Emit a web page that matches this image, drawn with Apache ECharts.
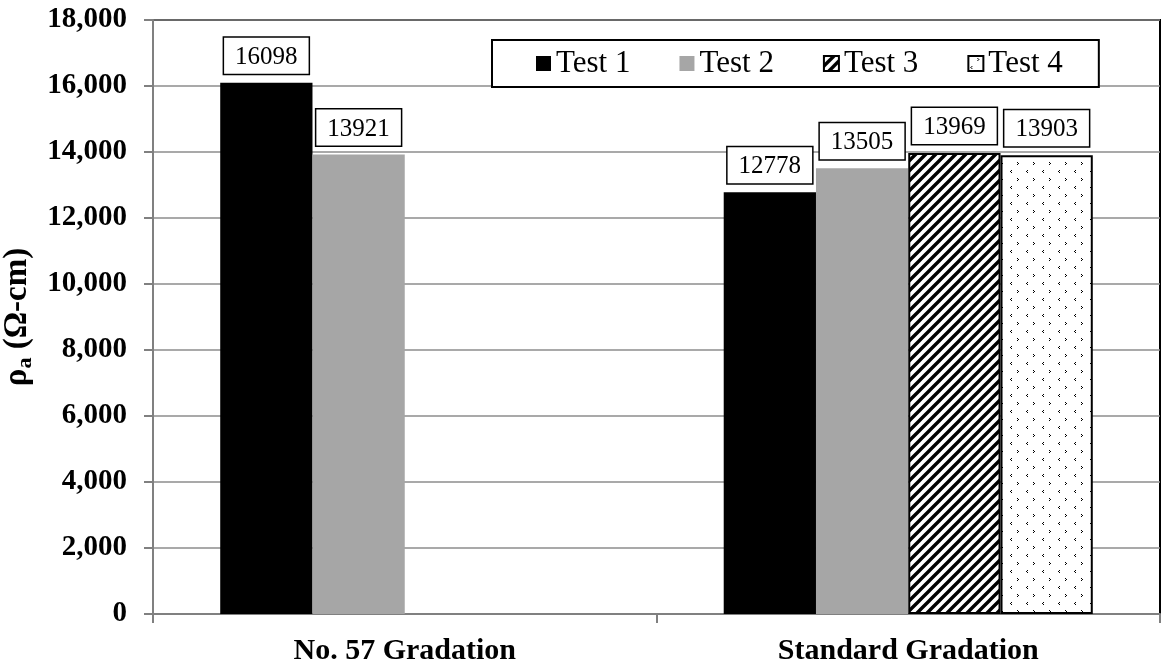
<!DOCTYPE html>
<html>
<head>
<meta charset="utf-8">
<script src="https://cdn.jsdelivr.net/npm/echarts@6/dist/echarts.min.js"></script>
<style>
  html, body { margin: 0; padding: 0; background: #fff; }
  #chart { width: 1169px; height: 670px; }
</style>
</head>
<body>
<div id="chart"></div>
<script>
// data
var categories = ['No. 57 Gradation', 'Standard Gradation'];
var seriesNames = ['Test 1', 'Test 2', 'Test 3', 'Test 4'];
var test1 = [16098, 12778];
var test2 = [13921, 13505];
var test3 = [null, 13969];
var test4 = [null, 13903];
var yMin = 0, yMax = 18000, yStep = 2000;

var serif = '"Liberation Serif", "Times New Roman", serif';

// hatch pattern for Test 3 (diagonal stripes)
function stripes() {
  var n = 10;
  var c = document.createElement('canvas');
  c.width = n; c.height = n;
  var g = c.getContext('2d');
  g.fillStyle = '#fff';
  g.fillRect(0, 0, n, n);
  g.strokeStyle = '#000';
  g.lineWidth = 3.4;
  g.beginPath();
  for (var k = -1; k <= 2; k++) {
    g.moveTo(-n + k * n, n); g.lineTo(k * n, 0);
    g.moveTo(-n + k * n - 2, n + 2); g.lineTo(k * n + 2, -2);
  }
  g.stroke();
  return c;
}

// dotted pattern for Test 4 (small < and > marks, staggered rows)
function dots() {
  var c = document.createElement('canvas');
  c.width = 16; c.height = 16;
  var g = c.getContext('2d');
  g.fillStyle = '#fff';
  g.fillRect(0, 0, 16, 16);
  g.fillStyle = '#000';
  function lt(x, y) { g.fillRect(x + 1, y, 1, 1); g.fillRect(x, y + 1, 1, 1); g.fillRect(x + 1, y + 2, 1, 1); }
  function gt(x, y) { g.fillRect(x, y, 1, 1); g.fillRect(x + 1, y + 1, 1, 1); g.fillRect(x, y + 2, 1, 1); }
  gt(9, 2);
  lt(2, 10);
  return c;
}

var labelStyle = {
  show: true,
  position: 'top',
  distance: 9,
  color: '#000',
  fontFamily: serif,
  fontSize: 25,
  backgroundColor: '#fff',
  borderColor: '#000',
  borderWidth: 1.5,
  padding: [7, 11, 4, 11]
};

function makeSeries(name, data, itemStyle) {
  return {
    name: name,
    type: 'bar',
    data: data,
    barGap: '0%',
    barCategoryGap: '26.7%',
    itemStyle: itemStyle,
    label: labelStyle
  };
}

var chart = echarts.init(document.getElementById('chart'));
chart.setOption({
  animation: false,
  backgroundColor: '#fff',
  grid: {
    left: 153, right: 9, top: 20, bottom: 56,
    outerBoundsMode: 'none',
    show: true, borderColor: '#000', borderWidth: 2
  },
  legend: {
    left: 492, top: 40,
    data: seriesNames,
    icon: 'rect',
    itemWidth: 15, itemHeight: 15,
    itemGap: 49,
    backgroundColor: '#fff',
    borderColor: '#000', borderWidth: 2,
    padding: [8, 36, 8, 44],
    textStyle: { fontFamily: serif, fontSize: 31, color: '#000' }
  },
  xAxis: {
    type: 'category',
    data: categories,
    axisLine: { lineStyle: { color: '#808080', width: 2 } },
    axisTick: { show: true, length: 9, lineStyle: { color: '#808080', width: 2 } },
    axisLabel: {
      margin: 22, color: '#000', fontFamily: serif, fontSize: 30, fontWeight: 'bold'
    }
  },
  yAxis: {
    type: 'value',
    min: yMin, max: yMax, interval: yStep,
    name: '{b|ρ}{s|a}{b| (Ω-cm)}',
    nameLocation: 'middle',
    nameGap: 116,
    nameTextStyle: {
      rich: {
        b: { fontFamily: serif, fontSize: 33, fontWeight: 'bold', color: '#000' },
        s: { fontFamily: serif, fontSize: 22, fontWeight: 'bold', color: '#000', padding: [16, 0, 0, 0] }
      }
    },
    axisLine: { show: true, lineStyle: { color: '#808080', width: 2 } },
    axisTick: { show: true, length: 9, lineStyle: { color: '#808080', width: 2 } },
    splitLine: { lineStyle: { color: '#8c8c8c', width: 1.5 } },
    axisLabel: {
      margin: 26, color: '#000', fontFamily: serif, fontSize: 29, fontWeight: 'bold',
      formatter: function (v) { return v.toLocaleString('en-US'); }
    }
  },
  series: [
    makeSeries(seriesNames[0], test1, { color: '#000' }),
    makeSeries(seriesNames[1], test2, { color: '#a6a6a6' }),
    makeSeries(seriesNames[2], test3, {
      color: { image: stripes(), repeat: 'repeat' }, borderColor: '#000', borderWidth: 2
    }),
    makeSeries(seriesNames[3], test4, {
      color: { image: dots(), repeat: 'repeat' }, borderColor: '#000', borderWidth: 2
    })
  ]
});
</script>
</body>
</html>
